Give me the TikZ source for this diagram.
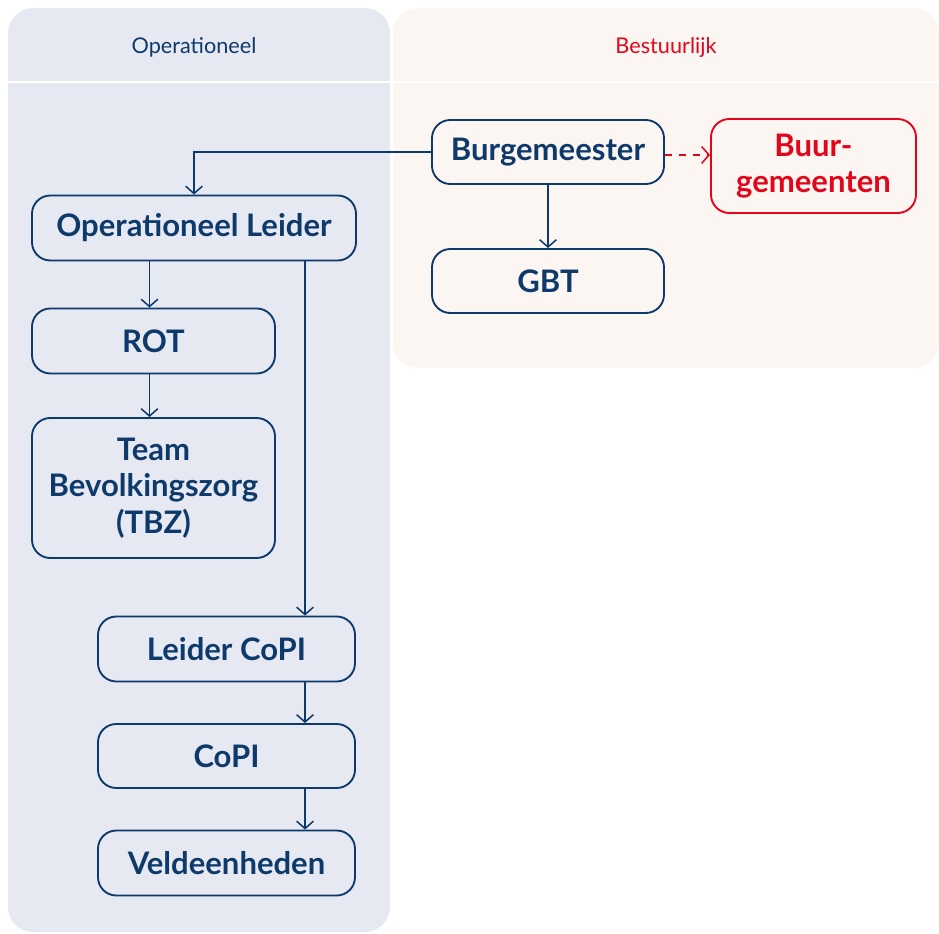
\documentclass[tikz,border=0pt]{standalone}
\usepackage{fontspec}
\setmainfont{Lato}
\usetikzlibrary{arrows.meta}
\definecolor{navy}{HTML}{0E3A6B}
\definecolor{redb}{HTML}{E3061B}
\definecolor{opsbg}{HTML}{E6E9F2}
\definecolor{bstbg}{HTML}{FBF6F2}
\tikzstyle{arrow} = [line width=1.3pt, draw=navy, -{Straight Barb[length=2.2mm,width=5mm]}]
\tikzstyle{dasharrow} = [line width=1.3pt, draw=redb, dash pattern=on 6pt off 6pt, -{Straight Barb[length=2.2mm,width=5mm]}]
\tikzstyle{roundRec} = [rectangle, rounded corners=0.55cm, line width=1.6pt, draw=navy, text=navy, font=\fontsize{26.5}{31}\selectfont\bfseries, text centered, align=center, inner sep=0pt]
\tikzstyle{redRec} = [roundRec, draw=redb, text=redb]
\tikzstyle{header} = [font=\fontsize{18.5}{22}\selectfont]

\begin{document}
\begin{tikzpicture}[x=0.03cm, y=-0.03cm]
		\useasboundingbox (0,0) rectangle (939,934);
		% panels
		\fill[opsbg, rounded corners=0.75cm] (8,8) rectangle (390,932);
		\fill[bstbg, rounded corners=0.75cm] (393,8) rectangle (939,368);
		\draw[white, line width=1.8pt] (8,82) -- (939,82);
		\node (ops) [header, text=navy] at (194,47) {Operationeel};
		\node (bst) [header, text=redb] at (666,47) {Bestuurlijk};
		% bestuurlijk
		\node (burg) [roundRec, minimum width=6.96cm, minimum height=1.92cm] at (548,152) {Burgemeester};
		\node (buur) [redRec, minimum width=6.15cm, minimum height=2.82cm] at (813.5,166) {Buur-\\gemeenten};
		\node (gbt) [roundRec, minimum width=6.96cm, minimum height=1.92cm] at (548,281) {GBT};
		% operationeel
		\node (opl) [roundRec, minimum width=9.72cm, minimum height=1.95cm] at (194,228) {Operationeel Leider};
		\node (rot) [roundRec, minimum width=7.29cm, minimum height=1.95cm] at (153.5,341) {ROT};
		\node (tbz) [roundRec, minimum width=7.29cm, minimum height=4.2cm] at (153.5,488) {Team\\Bevolkingszorg\\(TBZ)};
		\node (lcopi) [roundRec, minimum width=7.71cm, minimum height=1.95cm] at (226.5,649) {Leider CoPI};
		\node (copi) [roundRec, minimum width=7.71cm, minimum height=1.92cm] at (226.5,756) {CoPI};
		\node (veld) [roundRec, minimum width=7.71cm, minimum height=1.95cm] at (226.5,863) {Veldeenheden};
		\coordinate (lane) at (305,0);
		\coordinate (rotlane) at (149.5,0);
		% connectors
		\draw [arrow] (burg.west) -| (opl.north);
		\draw [arrow] (burg.south) -- (gbt.north);
		\draw [dasharrow] ([yshift=-0.09cm]burg.east) -- ([yshift=-0.09cm]burg.east -| buur.west);
		\draw [arrow] (opl.south -| rotlane) -- (rot.north -| rotlane);
		\draw [arrow] (rot.south -| rotlane) -- (tbz.north -| rotlane);
		\draw [arrow] (opl.south -| lane) -- (lcopi.north -| lane);
		\draw [arrow] (lcopi.south -| lane) -- (copi.north -| lane);
		\draw [arrow] (copi.south -| lane) -- (veld.north -| lane);
	\end{tikzpicture}
\end{document}
